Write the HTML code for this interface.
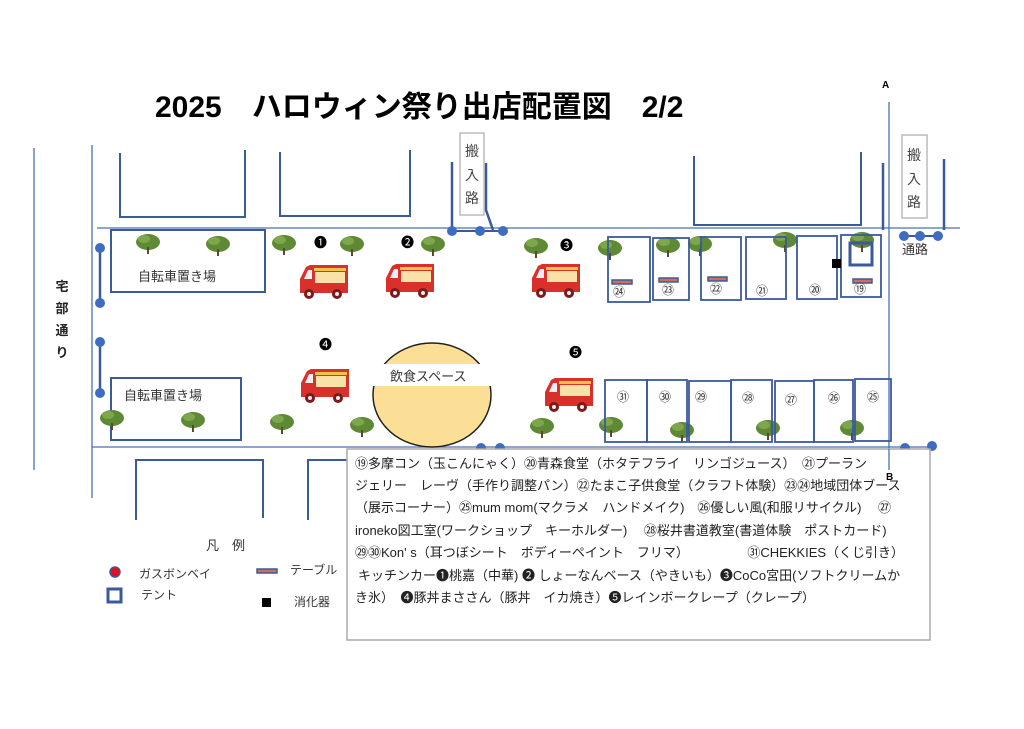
<!DOCTYPE html>
<html><head><meta charset="utf-8"><style>
body{margin:0;background:#fff;width:1024px;height:724px;overflow:hidden}
svg text{font-family:"Liberation Sans","Noto Sans CJK JP",sans-serif}
</style></head><body>
<svg width="1024" height="724" viewBox="0 0 1024 724" xmlns="http://www.w3.org/2000/svg">
<defs>
<g id="tree"><ellipse cx="0" cy="0" rx="12" ry="8" fill="#5f8a35"/><ellipse cx="-4" cy="-3" rx="6" ry="4" fill="#7ea64c"/><rect x="-1" y="5" width="2" height="7" fill="#5a4a2a"/></g>
<g id="truck">
<path d="M14 2 H52 V30 H4 V16 L10 4 Z" fill="#d8312c"/>
<rect x="18" y="5" width="32" height="3" fill="#f2c24a"/>
<rect x="19" y="9" width="30" height="11" fill="#f8e2a8"/>
<path d="M8 16 L12 7 H16 V16 Z" fill="#e8f0f6"/>
<circle cx="13" cy="31" r="5" fill="#7a1a1a"/><circle cx="13" cy="31" r="2" fill="#eee"/>
<circle cx="41" cy="31" r="5" fill="#7a1a1a"/><circle cx="41" cy="31" r="2" fill="#eee"/>
</g>
</defs>
<text x="155" y="117" font-size="30" font-weight="bold" fill="#000">2025　ハロウィン祭り出店配置図　2/2</text>
<text x="882" y="88" font-size="10" font-weight="bold">A</text>
<g stroke="#4a6fb0" fill="none" stroke-width="1.3">
<line x1="34" y1="148" x2="34" y2="470"/>
<line x1="92" y1="145" x2="92" y2="498"/>
<line x1="97" y1="228" x2="960" y2="228"/>
<line x1="92" y1="447" x2="935" y2="447"/>
<line x1="889" y1="102" x2="889" y2="512"/>
</g>
<g stroke="#3a5a9c" fill="none" stroke-width="2">
<path d="M120 153 V217 H245 V150"/>
<path d="M280 152 V216 H410 V150"/>
<path d="M694 156 V225 H861 V152"/>
<path d="M136 520 V460 H263 V518"/>
<path d="M308 520 V460 H347"/>
<line x1="883" y1="163" x2="883" y2="230" stroke-width="2.5"/>
<line x1="944" y1="159" x2="944" y2="230" stroke-width="2.5"/>
<line x1="452" y1="162" x2="452" y2="230" stroke-width="2.5"/>
<path d="M486 163 V210 L493 230" stroke-width="2.5"/>
<line x1="452" y1="231" x2="503" y2="231"/>
<line x1="904" y1="236" x2="938" y2="236"/>
<line x1="100" y1="248" x2="100" y2="303" stroke-width="2.5"/>
<line x1="100" y1="342" x2="100" y2="393" stroke-width="2.5"/>
<rect x="111" y="230" width="154" height="62"/>
<rect x="111" y="378" width="130" height="62"/>
</g>
<g fill="#3d6cc0">
<circle cx="452" cy="231" r="5"/><circle cx="480" cy="231" r="5"/><circle cx="503" cy="231" r="5"/>
<circle cx="904" cy="236" r="5"/><circle cx="920" cy="236" r="5"/><circle cx="938" cy="236" r="5"/>
<circle cx="100" cy="248" r="5"/><circle cx="100" cy="303" r="5"/><circle cx="100" cy="342" r="5"/><circle cx="100" cy="393" r="5"/>
<circle cx="481" cy="448" r="5"/><circle cx="500" cy="448" r="5"/><circle cx="905" cy="448" r="5"/><circle cx="932" cy="446" r="5"/>
</g>
<rect x="460" y="133" width="24" height="82" fill="#fff" stroke="#bbb" stroke-width="1.5"/>
<text x="472" y="156" font-size="14" text-anchor="middle" fill="#444">搬</text>
<text x="472" y="180" font-size="14" text-anchor="middle" fill="#444">入</text>
<text x="472" y="203" font-size="14" text-anchor="middle" fill="#444">路</text>
<rect x="902" y="135" width="25" height="83" fill="#fff" stroke="#bbb" stroke-width="1.5"/>
<text x="914" y="160" font-size="14" text-anchor="middle" fill="#444">搬</text>
<text x="914" y="184" font-size="14" text-anchor="middle" fill="#444">入</text>
<text x="914" y="207" font-size="14" text-anchor="middle" fill="#444">路</text>
<text x="902" y="254" font-size="13" fill="#333">通路</text>
<g font-size="13" font-weight="bold" fill="#222" text-anchor="middle">
<text x="62" y="291">宅</text><text x="62" y="313">部</text><text x="62" y="335">通</text><text x="62" y="357">り</text></g>
<text x="138" y="281" font-size="13" fill="#333">自転車置き場</text>
<text x="124" y="400" font-size="13" fill="#333">自転車置き場</text>
<ellipse cx="432" cy="395" rx="59" ry="52" fill="#fcdf96" stroke="#222" stroke-width="1.5"/>
<rect x="366" y="364" width="132" height="22" fill="#fff"/>
<text x="390" y="381" font-size="13" fill="#333">飲食スペース</text>
<use href="#truck" x="296" y="263"/><use href="#truck" x="382" y="262"/><use href="#truck" x="528" y="262"/>
<use href="#truck" x="297" y="367"/><use href="#truck" x="541" y="376"/>
<g font-size="13" fill="#000"><text x="314" y="247">❶</text><text x="401" y="247">❷</text><text x="560" y="250">❸</text><text x="319" y="349">❹</text><text x="569" y="357">❺</text></g>
<g>
<use href="#tree" x="148" y="242"/><use href="#tree" x="218" y="244"/><use href="#tree" x="284" y="243"/><use href="#tree" x="352" y="244"/><use href="#tree" x="433" y="244"/>
<use href="#tree" x="536" y="246"/><use href="#tree" x="610" y="248"/><use href="#tree" x="668" y="245"/><use href="#tree" x="700" y="244"/><use href="#tree" x="785" y="240"/><use href="#tree" x="862" y="240"/>
<use href="#tree" x="112" y="418"/><use href="#tree" x="193" y="420"/><use href="#tree" x="282" y="422"/><use href="#tree" x="362" y="425"/><use href="#tree" x="542" y="426"/>
<use href="#tree" x="611" y="425"/><use href="#tree" x="682" y="430"/><use href="#tree" x="768" y="428"/><use href="#tree" x="852" y="428"/>
</g>
<g stroke="#3a5a9c" fill="none" stroke-width="1.8">
<rect x="608" y="237" width="42" height="65"/><rect x="653" y="238" width="36" height="62"/><rect x="701" y="237" width="40" height="63"/>
<rect x="746" y="237" width="40" height="62"/><rect x="797" y="236" width="40" height="63"/><rect x="841" y="235" width="40" height="62"/>
<rect x="605" y="380" width="42" height="62"/><rect x="647" y="380" width="40" height="62"/><rect x="689" y="381" width="42" height="61"/>
<rect x="731" y="380" width="41" height="62"/><rect x="775" y="381" width="39" height="61"/><rect x="814" y="380" width="39" height="62"/><rect x="855" y="379" width="36" height="62"/>
<rect x="850" y="243" width="22" height="22" stroke-width="3"/>
</g>
<g fill="#d07050" stroke="#3a5a9c" stroke-width="1.5">
<rect x="612" y="280" width="20" height="4"/><rect x="659" y="278" width="19" height="4"/><rect x="708" y="277" width="19" height="4"/><rect x="853" y="279" width="19" height="4"/>
</g>
<rect x="832" y="259" width="9" height="9" fill="#000"/>
<g font-size="12" fill="#333" text-anchor="middle">
<text x="619" y="296">㉔</text><text x="668" y="294">㉓</text><text x="716" y="293">㉒</text><text x="762" y="295">㉑</text><text x="815" y="294">⑳</text><text x="860" y="293">⑲</text>
<text x="623" y="401">㉛</text><text x="665" y="401">㉚</text><text x="701" y="401">㉙</text><text x="748" y="402">㉘</text><text x="791" y="404">㉗</text><text x="834" y="402">㉖</text><text x="873" y="401">㉕</text>
</g>
<text x="206" y="550" font-size="13" fill="#333">凡　例</text>
<circle cx="115" cy="572" r="5" fill="#e01020" stroke="#3a5a9c" stroke-width="1.5"/>
<text x="139" y="578" font-size="12" fill="#333">ガスボンベイ</text>
<rect x="108" y="589" width="13" height="13" fill="none" stroke="#3a5a9c" stroke-width="3"/>
<text x="141" y="599" font-size="12" fill="#333">テント</text>
<rect x="257" y="569" width="20" height="4" fill="#d07050" stroke="#3a5a9c" stroke-width="1.5"/>
<text x="290" y="574" font-size="12" fill="#333">テーブル</text>
<rect x="262" y="598" width="9" height="9" fill="#000"/>
<text x="294" y="606" font-size="12" fill="#333">消化器</text>
<rect x="347" y="449" width="583" height="191" fill="#fff" stroke="#aaa" stroke-width="1.5"/>
<line x1="889" y1="449" x2="889" y2="470" stroke="#4a6fb0" stroke-width="1.3"/>
<text x="886" y="480" font-size="10" font-weight="bold">B</text>
<g font-size="13" fill="#222">
<text x="355" y="468">⑲多摩コン（玉こんにゃく）⑳青森食堂（ホタテフライ　リンゴジュース）　㉑プーラン</text>
<text x="355" y="490">ジェリー　レーヴ（手作り調整パン）㉒たまこ子供食堂（クラフト体験）㉓㉔地域団体ブース</text>
<text x="355" y="512">（展示コーナー）㉕mum mom(マクラメ　ハンドメイク)　㉖優しい風(和服リサイクル)　 ㉗</text>
<text x="355" y="535">ironeko図工室(ワークショップ　キーホルダー)　 ㉘桜井書道教室(書道体験　ポストカード)</text>
<text x="355" y="557">㉙㉚Kon' s（耳つぼシート　ボディーペイント　フリマ）　　　　　㉛CHEKKIES（くじ引き）</text>
<text x="358" y="580">キッチンカー❶桃嘉（中華) ❷ しょーなんベース（やきいも）❸CoCo宮田(ソフトクリームか</text>
<text x="355" y="602">き氷）　❹豚丼まささん（豚丼　イカ焼き）❺レインボークレープ（クレープ）</text>
</g>
</svg>
</body></html>
